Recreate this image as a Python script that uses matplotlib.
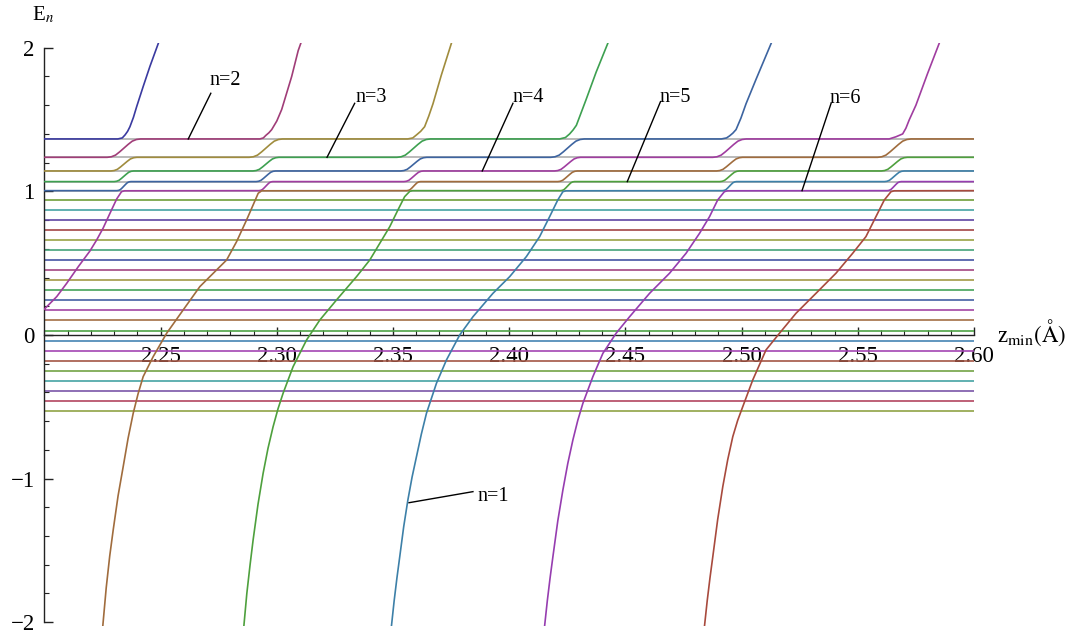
import numpy as np
import matplotlib.pyplot as plt
from matplotlib.ticker import MultipleLocator

plt.rcParams['font.family'] = ['Liberation Serif', 'DejaVu Serif']
plt.rcParams['mathtext.fontset'] = 'stix'

# flat levels below the crossing region (top to bottom)
flat_E = [0.940, 0.870, 0.801, 0.731, 0.662, 0.592, 0.522, 0.453, 0.383, 0.313, 0.244,
          0.174, 0.104, 0.030, -0.040, -0.109, -0.179, -0.249, -0.318, -0.388, -0.458, -0.527]
flat_colors = ['#6f9e3a', '#46a3a3', '#5f46a3', '#a34646', '#9aa346', '#46a37a', '#4654a3',
               '#a34680', '#a39a46', '#46a35a', '#4660a3', '#a346a3', '#a37046', '#4ea346',
               '#4684b3', '#a346b3', '#a35646', '#73a346', '#46a3a3', '#7a56a8', '#b34660',
               '#90a346']

# plateaus above E = 1
plateau_E = [1.005, 1.068, 1.142, 1.237, 1.365]

# z where a steep level reaches the plateaus and everything steps up
cross_z = [2.2342, 2.2953, 2.3589, 2.4251, 2.4948, 2.5657]

# shape of one avoided-crossing step (offset in half widths, fraction of the step)
step_u = [-1.0, -0.75, -0.5, -0.25, 0.0, 0.25, 0.5, 0.75, 1.0]
step_frac = [0.0, 0.03, 0.12, 0.3, 0.5, 0.7, 0.88, 0.97, 1.0]
step_halfwidth = [0.0030, 0.0042, 0.0056, 0.0072]

# steep branches coming up from below (one per crossing)
purple_z = [2.2000, 2.2053, 2.2096, 2.2146, 2.2196, 2.2225, 2.2253, 2.2282, 2.2311, 2.2332,
            2.2345]
purple_E = [0.180, 0.267, 0.360, 0.476, 0.585, 0.662, 0.745, 0.847, 0.947, 0.998, 1.004]
brown_z = [2.2251, 2.2266, 2.2281, 2.2296, 2.2317, 2.2339, 2.2360, 2.2382, 2.2403, 2.2425,
           2.2468, 2.2526, 2.2597, 2.2669, 2.2741, 2.2784, 2.2827, 2.2870, 2.2898, 2.2920,
           2.2935]
brown_E = [-2.031, -1.76, -1.54, -1.358, -1.12, -0.917, -0.72, -0.546, -0.41, -0.290,
           -0.151, 0.012, 0.174, 0.337, 0.453, 0.522, 0.650, 0.801, 0.905, 0.987, 1.004]
green_z = [2.2858, 2.2871, 2.2885, 2.2898, 2.2919, 2.2941, 2.2962, 2.2984, 2.3005, 2.3027,
           2.3070, 2.3128, 2.3185, 2.3257, 2.3343, 2.3400, 2.3443, 2.3486, 2.3521, 2.3550,
           2.3572, 2.3584]
green_E = [-2.031, -1.80, -1.60, -1.428, -1.18, -0.964, -0.79, -0.639, -0.515, -0.406,
           -0.221, -0.035, 0.104, 0.244, 0.406, 0.522, 0.638, 0.754, 0.870, 0.963,
           1.000, 1.005]
teal_z = [2.3493, 2.3505, 2.3517, 2.3529, 2.3546, 2.3564, 2.3582, 2.3601, 2.3622, 2.3644,
          2.3687, 2.3730, 2.3787, 2.3844, 2.3930, 2.4002, 2.4074, 2.4131, 2.4174, 2.4209,
          2.4231, 2.4245]
teal_E = [-2.031, -1.85, -1.69, -1.544, -1.335, -1.149, -0.99, -0.847, -0.69, -0.545,
          -0.336, -0.174, 0.0, 0.127, 0.290, 0.406, 0.546, 0.685, 0.824, 0.940,
          0.998, 1.004]
violet_z = [2.4152, 2.4164, 2.4176, 2.4188, 2.4209, 2.4231, 2.4252, 2.4274, 2.4295, 2.4317,
            2.4360, 2.4403, 2.4460, 2.4518, 2.4604, 2.4690, 2.4761, 2.4819, 2.4862, 2.4897,
            2.4926, 2.4940]
violet_E = [-2.031, -1.85, -1.69, -1.544, -1.295, -1.079, -0.895, -0.731, -0.595, -0.476,
            -0.290, -0.128, 0.012, 0.127, 0.290, 0.430, 0.569, 0.708, 0.824, 0.940,
            0.998, 1.004]
rust_z = [2.4840, 2.4852, 2.4864, 2.4876, 2.4897, 2.4919, 2.4940, 2.4962, 2.4983, 2.5005,
          2.5048, 2.5105, 2.5163, 2.5234, 2.5320, 2.5406, 2.5478, 2.5535, 2.5578, 2.5614,
          2.5643, 2.5657]
rust_E = [-2.031, -1.85, -1.69, -1.544, -1.285, -1.056, -0.87, -0.708, -0.595, -0.499,
          -0.313, -0.104, 0.012, 0.151, 0.290, 0.430, 0.569, 0.685, 0.824, 0.940,
          0.998, 1.004]

# branches leaving the top plateau
rise_z = [
    [2.2316, 2.2335, 2.2347, 2.2358, 2.2368, 2.2383, 2.2397, 2.2425, 2.2454, 2.2490],
    [2.2927, 2.2942, 2.2953, 2.2966, 2.2978, 2.3000, 2.3021, 2.3064, 2.3092, 2.3103],
    [2.3563, 2.3585, 2.3601, 2.3619, 2.3636, 2.3654, 2.3672, 2.3708, 2.3751],
    [2.4217, 2.4242, 2.4260, 2.4275, 2.4289, 2.4310, 2.4331, 2.4374, 2.4424],
    [2.4913, 2.4935, 2.4948, 2.4962, 2.4976, 2.4997, 2.5019, 2.5062, 2.5127],
    [2.5635, 2.5664, 2.5693, 2.5707, 2.5721, 2.5750, 2.5800, 2.5850],
]
rise_E = [
    [1.365, 1.372, 1.393, 1.418, 1.45, 1.515, 1.59, 1.73, 1.87, 2.03],
    [1.365, 1.372, 1.39, 1.408, 1.43, 1.49, 1.57, 1.80, 1.98, 2.03],
    [1.365, 1.372, 1.393, 1.418, 1.45, 1.525, 1.61, 1.81, 2.03],
    [1.365, 1.375, 1.40, 1.428, 1.46, 1.55, 1.64, 1.83, 2.03],
    [1.365, 1.372, 1.386, 1.405, 1.43, 1.51, 1.61, 1.78, 2.03],
    [1.365, 1.38, 1.40, 1.44, 1.497, 1.60, 1.82, 2.03],
]

# staircase curves: 5 already on the plateaus at the left edge, then one per crossing
stair_colors = ['#3a3aa0', '#a03d78', '#a08c3d', '#3da050', '#3d64a0',
                '#a03da0', '#a06c3d', '#4ea03d', '#3d80a8', '#963db0', '#a84a3d']
steep_z = [purple_z, brown_z, green_z, teal_z, violet_z, rust_z]
steep_E = [purple_E, brown_E, green_E, teal_E, violet_E, rust_E]

label_names = ['n=1', 'n=2', 'n=3', 'n=4', 'n=5', 'n=6']
label_z = [2.3864, 2.2712, 2.3340, 2.4016, 2.4647, 2.5378]
label_E = [-1.154, 1.741, 1.625, 1.625, 1.625, 1.616]
leader_z0 = [2.3844, 2.2716, 2.3335, 2.4016, 2.4651, 2.5385]
leader_E0 = [-1.091, 1.683, 1.613, 1.613, 1.625, 1.613]
leader_z1 = [2.3569, 2.2619, 2.3216, 2.3884, 2.4508, 2.5260]
leader_E1 = [-1.168, 1.365, 1.237, 1.142, 1.068, 1.005]


def staircase(a):
    zs, es = [], []
    if a < 0:
        k = -1 - a
        zs.append(2.20)
        es.append(plateau_E[k])
    else:
        zs += steep_z[a]
        es += steep_E[a]
        k = 0
    for j in range(max(a + 1, 0), len(cross_z)):
        if k < 4:
            hw = step_halfwidth[k]
            for u, f in zip(step_u, step_frac):
                zs.append(cross_z[j] + u * hw)
                es.append(plateau_E[k] + f * (plateau_E[k + 1] - plateau_E[k]))
            k += 1
        else:
            zs += rise_z[j]
            es += rise_E[j]
            break
    else:
        zs.append(2.60)
        es.append(plateau_E[k])
    return zs, es


fig = plt.figure(figsize=(10.7, 6.37), dpi=100)
ax = fig.add_axes([0.0415, 0.0165, 0.8688, 0.9153])

for e in plateau_E:
    ax.plot([2.20, 2.60], [e, e], color='#b4b4b4', lw=1.3, zorder=1)
for e, c in zip(flat_E, flat_colors):
    ax.plot([2.20, 2.60], [e, e], color=c, lw=1.2, zorder=2)
for i, c in enumerate(stair_colors):
    zs, es = staircase(i - 5)
    ax.plot(zs, es, color=c, lw=1.2, zorder=3, solid_joinstyle='round')

for name, tz, te, z0, e0, z1, e1 in zip(label_names, label_z, label_E,
                                        leader_z0, leader_E0, leader_z1, leader_E1):
    ax.plot([z0, z1], [e0, e1], color='black', lw=1.0, zorder=4)
    ax.text(tz, te, name, fontsize=14.5, ha='left', va='baseline', zorder=5)

ax.set_xlim(2.20, 2.60)
ax.set_ylim(-2.03, 2.03)
for s in ['top', 'right']:
    ax.spines[s].set_visible(False)
ax.spines['bottom'].set_position(('data', 0))
ax.spines['left'].set_position(('data', 2.20))
ax.spines['left'].set_bounds(-2, 2)
ax.spines['bottom'].set_bounds(2.20, 2.60)
for s in ['bottom', 'left']:
    ax.spines[s].set_linewidth(1.0)
    ax.spines[s].set_color('#222222')
    ax.spines[s].set_zorder(2.5)

ax.set_xticks([2.25, 2.30, 2.35, 2.40, 2.45, 2.50, 2.55, 2.60])
ax.set_xticklabels(['2.25', '2.30', '2.35', '2.40', '2.45', '2.50', '2.55', '2.60'])
ax.xaxis.set_minor_locator(MultipleLocator(0.01))
ax.set_yticks([-2, -1, 0, 1, 2])
ax.yaxis.set_minor_locator(MultipleLocator(0.2))
ax.tick_params(axis='both', which='major', direction='in', width=1.0, color='#222222',
               labelsize=16.5)
ax.tick_params(axis='x', which='major', length=6, pad=8)
ax.tick_params(axis='y', which='major', length=6.5, pad=7)
ax.tick_params(axis='both', which='minor', direction='in', length=3.3, width=0.8,
               color='#222222')

fig.text(32 / 1070, 1 - 20 / 637, r'E$_{n}$', fontsize=15, va='baseline')
fig.text(997 / 1070, 1 - 342 / 637, r'z$_{\mathrm{min}}\left(\mathrm{Å}\right)$',
         fontsize=16.5, va='baseline')

fig.savefig('out.png', dpi=100)
